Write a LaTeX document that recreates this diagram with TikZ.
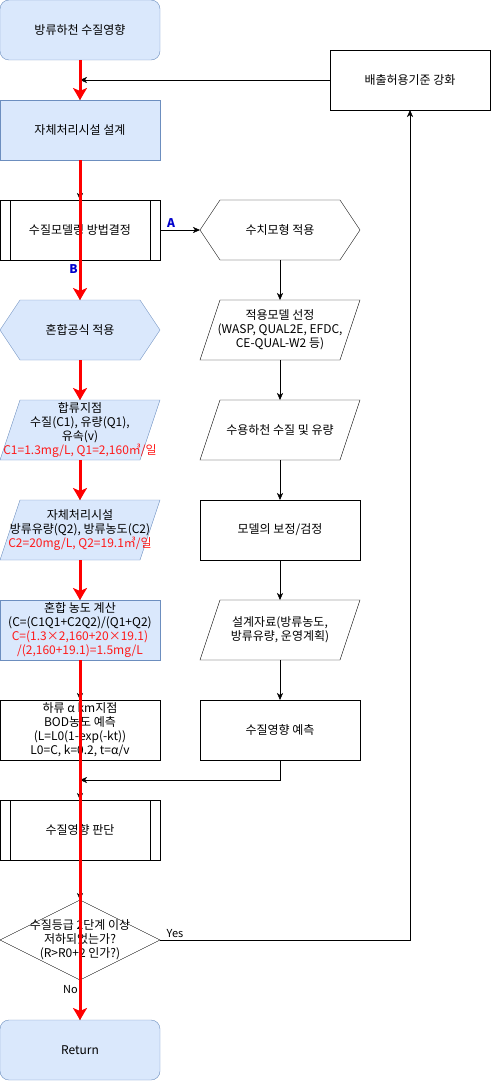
\documentclass[tikz,border=0pt]{standalone}
\usepackage{fontspec}
\setmainfont{Noto Sans CJK KR}
\usetikzlibrary{arrows.meta,backgrounds}
\definecolor{fillblue}{HTML}{DAE8FC}
\definecolor{lineblue}{HTML}{6C8EBF}
\definecolor{tagblue}{HTML}{0000CC}
\definecolor{hotred}{HTML}{FF1A1A}
\def\hexa#1{(#1.west) -- ([xshift=20pt]#1.north west) -- ([xshift=-20pt]#1.north east)
  -- (#1.east) -- ([xshift=-20pt]#1.south east) -- ([xshift=20pt]#1.south west) -- cycle}
\def\para#1{([xshift=20pt]#1.north west) -- (#1.north east) -- ([xshift=-20pt]#1.south east)
  -- (#1.south west) -- cycle}
\def\rhomb#1{(#1.north) -- (#1.east) -- (#1.south) -- (#1.west) -- cycle}
\tikzset{
  box/.style={minimum width=160pt,minimum height=60pt,inner sep=1pt,outer sep=0pt,
    align=center,font=\fontsize{12}{14}\selectfont},
  blu/.style={box,fill=fillblue,draw=lineblue},
  wht/.style={box,draw=black},
  bluline/.style={fill=fillblue,draw=lineblue},
  blkline/.style={fill=white,draw=black},
  flow/.style={draw,-{Stealth[length=7pt,width=6pt,inset=2pt]}},
  redflow/.style={draw=red,line width=3pt,-{Stealth[length=12pt,width=14pt,inset=3pt]}},
  lbl/.style={font=\fontsize{11}{13}\selectfont,inner sep=2pt},
  tag/.style={font=\bfseries\fontsize{12}{14}\selectfont,text=tagblue,inner sep=2pt}
}

\begin{document}
\begin{tikzpicture}[x=1pt,y=-1pt]
\useasboundingbox (0,0) rectangle (491,1081);
% left column
\node[blu,rounded corners=9pt] (start) at (80,30) {방류하천 수질영향};
\node[blu] (self) at (80,130) {자체처리시설 설계};
\node[wht] (mdl) at (80,230) {수질모델링 방법결정};
\node[box] (mix) at (80,330) {혼합공식 적용};
\node[box] (conf) at (80,430) {합류지점\\수질(C1), 유량(Q1),\\유속(v)\\\textcolor{hotred}{C1=1.3mg/L, Q1=2,160㎥/일}};
\node[box] (eff) at (80,530) {자체처리시설\\방류유량(Q2), 방류농도(C2)\\\textcolor{hotred}{C2=20mg/L, Q2=19.1㎥/일}};
\node[blu] (conc) at (80,630) {혼합 농도 계산\\(C=(C1Q1+C2Q2)/(Q1+Q2)\\\textcolor{hotred}{C=(1.3×2,160+20×19.1)}\\\textcolor{hotred}{/(2,160+19.1)=1.5mg/L}};
\node[wht] (down) at (80,730) {하류 α km지점\\BOD농도 예측\\(L=L0(1-exp(-kt))\\L0=C, k=0.2, t=α/v};
\node[wht] (judge) at (80,830) {수질영향 판단};
\node[box,minimum height=80pt] (dec) at (80,940) {수질등급 2단계 이상\\저하되었는가?\\(R>R0+2 인가?)};
\node[blu,rounded corners=9pt] (ret) at (80,1050) {Return};
% right column
\node[box] (num) at (280,230) {수치모형 적용};
\node[box] (sel) at (280,330) {적용모델 선정\\(WASP, QUAL2E, EFDC,\\CE-QUAL-W2 등)};
\node[box] (riv) at (280,430) {수용하천 수질 및 유량};
\node[wht] (cal) at (280,530) {모델의 보정/검정};
\node[box] (dsn) at (280,630) {설계자료(방류농도,\\방류유량, 운영계획)};
\node[wht] (pred) at (280,730) {수질영향 예측};
\node[wht] (std) at (410,80) {배출허용기준 강화};
\coordinate (j1) at (80,80);
\coordinate (j2) at (80,780);

% outlines
\begin{scope}[on background layer]
  \draw[bluline] \hexa{mix};
  \draw[blkline] \hexa{num};
  \draw[bluline] \para{conf};
  \draw[bluline] \para{eff};
  \foreach \n in {sel,riv,dsn}
    \draw[blkline] \para{\n};
  \draw[blkline] \rhomb{dec};
\end{scope}
\foreach \n in {mdl,judge}
  \draw ([xshift=10pt]\n.north west) -- ([xshift=10pt]\n.south west)
        ([xshift=-10pt]\n.north east) -- ([xshift=-10pt]\n.south east);

% connectors
\draw[flow] (start) -- (self);
\draw[flow] (std) -- (j1);
\draw[flow] (self) -- (mdl);
\draw[flow] (mdl) -- node[tag,pos=.28,above] {A} (num);
\draw[flow] (mdl) -- node[tag,pos=.22,left] {B} (mix);
\foreach \a/\b in {mix/conf,conf/eff,eff/conc,conc/down,down/judge,judge/dec}
  \draw[flow] (\a) -- (\b);
\foreach \a/\b in {num/sel,sel/riv,riv/cal,cal/dsn,dsn/pred}
  \draw[flow] (\a) -- (\b);
\draw[flow] (pred.south) |- (j2);
\draw[flow] (dec.east) -| node[lbl,pos=.03,above] {Yes} (std.south);
\draw[flow] (dec) -- node[lbl,pos=.25,left] {No} (ret);

% red path
\foreach \a/\b in {start/self,self/mix,mix/conf,conf/eff,eff/conc,conc/ret}
  \draw[redflow] (\a) -- (\b);
\end{tikzpicture}
\end{document}
